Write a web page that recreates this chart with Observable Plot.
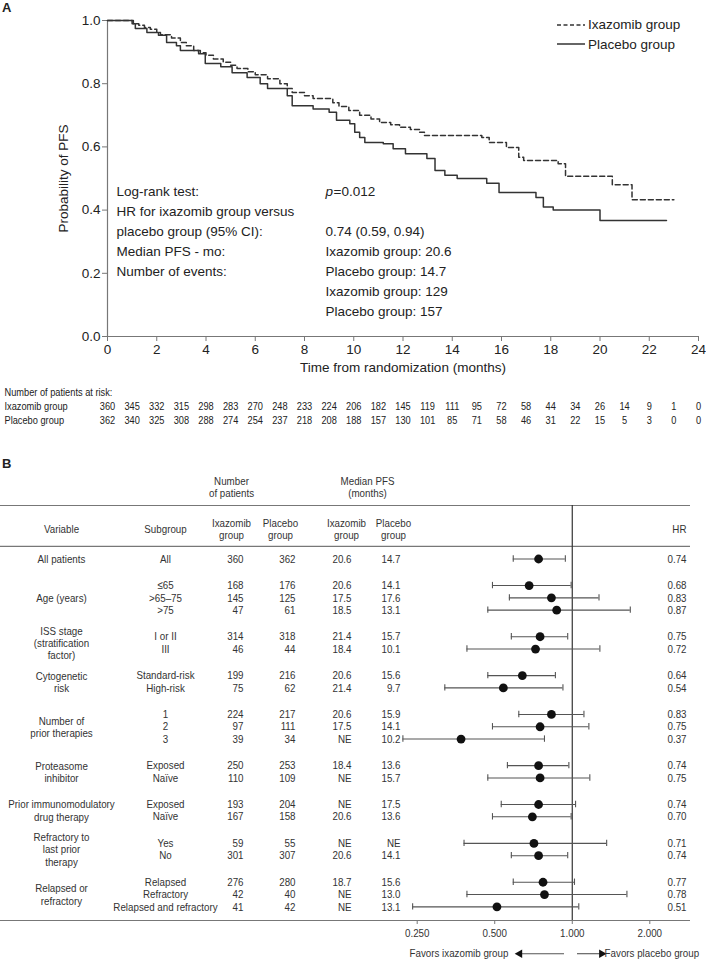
<!DOCTYPE html>
<html><head><meta charset="utf-8">
<script src="https://cdn.jsdelivr.net/npm/d3@7"></script>
<script src="https://cdn.jsdelivr.net/npm/@observablehq/plot@0.6"></script>
<style>
body{margin:0;background:#fff;}
#root{position:relative;width:706px;height:960px;font-family:"Liberation Sans",Arial,sans-serif;color:#222;overflow:hidden;}
.abs{position:absolute;}
.panel{font-weight:bold;font-size:13px;}
.legend{font-size:13.5px;line-height:19.5px;}
.legend div{display:flex;align-items:center;}
.legend svg{margin-right:3px;}
svg [aria-label$="tick"] path{stroke:#777;}
</style></head><body><div id="root"></div>
<script>
// ---------------- Panel A data ----------------
const ixaTime = [0,1.05,1.27,1.5,1.74,2.0,2.15,2.6,2.96,3.2,3.5,3.77,4.0,4.3,4.7,5.0,5.26,5.7,6.0,6.5,7.0,7.3,7.5,8.0,8.35,9.15,9.4,9.8,10.24,10.7,11.05,11.5,11.86,12.3,12.67,12.87,15.2,15.5,16.2,16.7,16.9,18.3,18.6,20.5,21.3,23.0];
const ixaSurv = [1.0,0.99,0.985,0.978,0.972,0.962,0.955,0.945,0.93,0.92,0.905,0.898,0.89,0.878,0.868,0.858,0.848,0.838,0.828,0.816,0.80,0.785,0.772,0.762,0.753,0.74,0.728,0.715,0.70,0.688,0.677,0.67,0.662,0.655,0.646,0.636,0.63,0.614,0.598,0.567,0.557,0.547,0.507,0.48,0.433,0.433];
const plaTime = [0,1.0,1.13,1.6,2.07,2.4,2.8,2.96,3.7,3.97,4.6,5.06,5.67,6.2,6.5,7.3,7.5,8.35,9.0,9.3,9.84,10.04,10.24,10.45,11.2,11.6,12.1,12.97,13.3,13.7,14.2,15.4,15.9,17.4,17.7,18.1,20.0,22.7];
const plaSurv = [1.0,0.99,0.975,0.962,0.953,0.93,0.92,0.905,0.895,0.864,0.854,0.835,0.82,0.80,0.785,0.762,0.73,0.72,0.71,0.684,0.673,0.646,0.63,0.614,0.61,0.594,0.578,0.563,0.525,0.51,0.50,0.485,0.456,0.44,0.41,0.40,0.367,0.367];
const groupNames = ["Ixazomib group","Placebo group"];
const riskMonths = [0,1,2,3,4,5,6,7,8,9,10,11,12,13,14,15,16,17,18,19,20,21,22,23,24];
const ixaAtRisk = [360,345,332,315,298,283,270,248,233,224,206,182,145,119,111,95,72,58,44,34,26,14,9,1,0];
const plaAtRisk = [362,340,325,308,288,274,254,237,218,208,188,157,130,101,85,71,58,46,31,22,15,5,3,0,0];
const yTicksA = [0,0.2,0.4,0.6,0.8,1.0];
const xTicksA = [0,2,4,6,8,10,12,14,16,18,20,22,24];
const statLabels = ["Log-rank test:","HR for ixazomib group versus","placebo group (95% CI):","Median PFS - mo:","Number of events:"];
const statValues = ["=0.012","","0.74 (0.59, 0.94)","Ixazomib group: 20.6","Placebo group: 14.7","Ixazomib group: 129","Placebo group: 157"];

// ---------------- Panel B data ----------------
const variableLabels = ["All patients","Age (years)","ISS stage\n(stratification\nfactor)","Cytogenetic\nrisk","Number of\nprior therapies","Proteasome\ninhibitor","Prior immunomodulatory\ndrug therapy","Refractory to\nlast prior\ntherapy","Relapsed or\nrefractory"];
const subgroups = ["All","≤65",">65–75",">75","I or II","III","Standard-risk","High-risk","1","2","3","Exposed","Naïve","Exposed","Naïve","Yes","No","Relapsed","Refractory","Relapsed and refractory"];
const groupOf = [0,1,1,1,2,2,3,3,4,4,4,5,5,6,6,7,7,8,8,8];
const nIxa = [360,168,145,47,314,46,199,75,224,97,39,250,110,193,167,59,301,276,42,41];
const nPla = [362,176,125,61,318,44,216,62,217,111,34,253,109,204,158,55,307,280,40,42];
const medIxa = ["20.6","20.6","17.5","18.5","21.4","18.4","20.6","21.4","20.6","17.5","NE","18.4","NE","NE","20.6","NE","20.6","18.7","NE","NE"];
const medPla = ["14.7","14.1","17.6","13.1","15.7","10.1","15.6","9.7","15.9","14.1","10.2","13.6","15.7","17.5","13.6","NE","14.1","15.6","13.0","13.1"];
const hr = [0.74,0.68,0.83,0.87,0.75,0.72,0.64,0.54,0.83,0.75,0.37,0.74,0.75,0.74,0.70,0.71,0.74,0.77,0.78,0.51];
const ciLow = [0.59,0.49,0.57,0.47,0.58,0.39,0.47,0.32,0.62,0.49,0.22,0.56,0.47,0.53,0.49,0.38,0.58,0.59,0.39,0.24];
const ciHigh = [0.94,0.99,1.27,1.68,0.96,1.28,0.86,0.92,1.11,1.16,0.78,0.97,1.17,1.03,0.99,1.36,0.96,1.02,1.63,1.06];
const hrTicks = [0.25,0.5,1,2];

// ---------------- build ----------------
const root = document.getElementById("root");
function place(el, left, top){ el.classList.add("abs"); el.style.left=left+"px"; el.style.top=top+"px"; root.appendChild(el); return el; }
function div(html, cls){ const d=document.createElement("div"); d.innerHTML=html; if(cls) d.className=cls; return d; }
// emulate a narrow typeface (the reference uses Arial Narrow-like type)
function condense(svg, k){
  svg.querySelectorAll("text").forEach(t=>{
    const spans = t.querySelectorAll("tspan");
    const els = spans.length ? Array.from(spans) : [t];
    els.forEach(e=>{
      const L = e.getComputedTextLength();
      if (L>0){ e.setAttribute("textLength", (L*k).toFixed(2)); e.setAttribute("lengthAdjust","spacingAndGlyphs"); }
    });
  });
}

const INK="#222", GRAY="#777";
const FONT = "'Liberation Sans',Arial,sans-serif";

// Panel A
const A_TOP = 20, A_BOTTOM = 44, A_H = 380, A_INNER = A_H - A_TOP - A_BOTTOM;
const km = [
  ...ixaTime.map((t,i)=>({t, s: ixaSurv[i], g: groupNames[0]})),
  ...plaTime.map((t,i)=>({t, s: plaSurv[i], g: groupNames[1]}))
];
const statLineY = i => 1 - (171 + i*20.1)/A_INNER;   // annotation lines, in probability units
const A = Plot.plot({
  width:706, height:A_H, marginLeft:107, marginRight:8, marginTop:A_TOP, marginBottom:A_BOTTOM,
  style:{fontFamily:FONT, fontSize:"13.5px", color:INK, background:"transparent"},
  x:{domain:[0,24]}, y:{domain:[0,1]},
  marks:[
    Plot.ruleX([0],{stroke:GRAY, strokeWidth:1.2}),
    Plot.ruleY([0],{stroke:GRAY, strokeWidth:1.2}),
    Plot.axisX({ticks:xTicksA, tickSize:5, tickPadding:3, label:null}),
    Plot.axisY({ticks:yTicksA, tickSize:5, tickPadding:2, tickFormat:d3.format(".1f"), label:null}),
    Plot.text(["Probability of PFS"],{frameAnchor:"left", rotate:-90, dx:-44, textAnchor:"middle"}),
    Plot.text(["Time from randomization (months)"],{frameAnchor:"bottom", dy:35}),
    Plot.line(km.filter(d=>d.g===groupNames[1]),{x:"t", y:"s", curve:"step-after", stroke:"#333", strokeWidth:1.5}),
    Plot.line(km.filter(d=>d.g===groupNames[0]),{x:"t", y:"s", curve:"step-after", stroke:"#333", strokeWidth:1.5, strokeDasharray:"5,3"}),
    Plot.text(statLabels,{x:0, y:(d,i)=>statLineY(i), dx:9, text:d=>d, textAnchor:"start"}),
    Plot.text(["p"],{x:0, y:statLineY(0), dx:218, textAnchor:"start", fontStyle:"italic"}),
    Plot.text(statValues.slice(0,1),{x:0, y:statLineY(0), dx:226, text:d=>d, textAnchor:"start"}),
    Plot.text(statValues,{filter:(d,i)=>i>1, x:0, y:(d,i)=>statLineY(i), dx:218, text:d=>d, textAnchor:"start"})
  ]
});
place(A,0,0);

// Legend
const leg = div(
  `<div><svg width="28" height="4"><line x1="0" y1="2" x2="28" y2="2" stroke="#333" stroke-width="1.5" stroke-dasharray="4,2.5"/></svg>${groupNames[0]}</div>`+
  `<div><svg width="28" height="4"><line x1="0" y1="2" x2="28" y2="2" stroke="#333" stroke-width="1.5"/></svg>${groupNames[1]}</div>`, "legend");
place(leg,557,15);
place(div("A","panel"),2,0);

// At-risk table
const risk = [
  ...riskMonths.map((m,i)=>({m, n: ixaAtRisk[i], g: groupNames[0]})),
  ...riskMonths.map((m,i)=>({m, n: plaAtRisk[i], g: groupNames[1]}))
];
const R = Plot.plot({
  width:706, height:50, marginLeft:107, marginRight:8, marginTop:0, marginBottom:0,
  style:{fontFamily:FONT, fontSize:"11px", color:INK, background:"transparent"},
  x:{domain:[0,24], axis:null}, y:{type:"point", domain:groupNames, range:[26,40], padding:0, axis:null},
  marks:[
    Plot.text(["Number of patients at risk:"],{frameAnchor:"top-left", dx:-103, dy:12, textAnchor:"start", lineAnchor:"middle"}),
    Plot.text(groupNames,{y:d=>d, text:d=>d, frameAnchor:"left", dx:-103, textAnchor:"start"}),
    Plot.text(risk,{x:"m", y:"g", text:"n"})
  ]
});
place(R,0,380);
condense(R,0.84);

// Panel B
const GAP = 2.16;                 // group spacing in row units
const rows = subgroups.map((s,i)=>({
  sub:s, slot: i + groupOf[i]*(GAP-1), nI:nIxa[i], nP:nPla[i], mI:medIxa[i], mP:medPla[i],
  hr:hr[i], lo:ciLow[i], hi:ciHigh[i]
}));
const vars = variableLabels.map((v,g)=>{
  const s = rows.filter((r,i)=>groupOf[i]===g).map(r=>r.slot);
  return {label:v, slot:d3.mean(s)};
});
const ROWPX = 12.3, TOP = 50, FIRST = 103.5, HEIGHTB = 505, BOTTOM = 465;
const slotTop = (TOP-FIRST)/ROWPX, slotBottom = (BOTTOM-FIRST)/ROWPX;
const slotRule2 = -1.02, slotHead = -2.4, slotSuper = -5.85, slotFav = slotBottom + 2.7;
const col = {variable:61, subgroup:165, nI:243, nP:295, mI:351, mP:400, hr:686};
const head = {nI:231, nP:280, mI:346, mP:393, nGroup:231, mGroup:367};
const C = {textAnchor:"middle", frameAnchor:"left"};
const B = Plot.plot({
  width:706, height:HEIGHTB, marginLeft:0, marginRight:16, marginTop:TOP, marginBottom:HEIGHTB-BOTTOM,
  style:{fontFamily:FONT, fontSize:"11.5px", color:"#333", background:"transparent"},
  x:{type:"log", base:2, domain:[0.25,2], range:[416.7,649.3]},
  y:{domain:[slotTop, slotBottom], range:[TOP, BOTTOM], axis:null},
  marks:[
    Plot.ruleY([slotTop, slotRule2, slotBottom],{stroke:GRAY, strokeWidth:1.2}),
    Plot.ruleX([1],{stroke:"#333", strokeWidth:1.2}),
    Plot.axisX({ticks:hrTicks, tickFormat:d3.format(".3f"), tickSize:4, tickPadding:4, label:null}),
    // headers
    Plot.text(["Number\nof patients"],{...C, dx:head.nGroup, y:slotSuper, lineHeight:1.1}),
    Plot.text(["Median PFS\n(months)"],{...C, dx:head.mGroup, y:slotSuper, lineHeight:1.1}),
    Plot.text(["Variable"],{...C, dx:col.variable, y:slotHead}),
    Plot.text(["Subgroup"],{...C, dx:col.subgroup, y:slotHead}),
    Plot.text(["Ixazomib\ngroup"],{...C, dx:head.nI, y:slotHead, lineHeight:1.05}),
    Plot.text(["Placebo\ngroup"],{...C, dx:head.nP, y:slotHead, lineHeight:1.05}),
    Plot.text(["Ixazomib\ngroup"],{...C, dx:head.mI, y:slotHead, lineHeight:1.05}),
    Plot.text(["Placebo\ngroup"],{...C, dx:head.mP, y:slotHead, lineHeight:1.05}),
    Plot.text(["HR"],{frameAnchor:"left", dx:col.hr, y:slotHead, textAnchor:"end"}),
    // table body
    Plot.text(vars,{...C, dx:col.variable, y:"slot", text:"label", lineHeight:1.07}),
    Plot.text(rows,{...C, dx:col.subgroup, y:"slot", text:"sub"}),
    Plot.text(rows,{frameAnchor:"left", dx:col.nI, y:"slot", text:"nI", textAnchor:"end"}),
    Plot.text(rows,{frameAnchor:"left", dx:col.nP, y:"slot", text:"nP", textAnchor:"end"}),
    Plot.text(rows,{frameAnchor:"left", dx:col.mI, y:"slot", text:"mI", textAnchor:"end"}),
    Plot.text(rows,{frameAnchor:"left", dx:col.mP, y:"slot", text:"mP", textAnchor:"end"}),
    Plot.text(rows,{frameAnchor:"left", dx:col.hr, y:"slot", text:d=>d3.format(".2f")(d.hr), textAnchor:"end"}),
    // forest
    Plot.ruleY(rows,{y:"slot", x1:"lo", x2:"hi", stroke:"#555", strokeWidth:1.1}),
    Plot.ruleX(rows,{x:"lo", y1:d=>d.slot-0.26, y2:d=>d.slot+0.26, stroke:"#555", strokeWidth:1.1}),
    Plot.ruleX(rows,{x:"hi", y1:d=>d.slot-0.26, y2:d=>d.slot+0.26, stroke:"#555", strokeWidth:1.1}),
    Plot.dot(rows,{x:"hr", y:"slot", r:4.4, fill:"#111", stroke:null}),
    // favours
    Plot.link([{a:0.929,b:0.635},{a:1.043,b:1.28}],{x1:"a", x2:"b", y1:slotFav, y2:slotFav, stroke:"#555", strokeWidth:1.1}),
    Plot.dot([{x:0.625, r:-90},{x:1.30, r:90}],{x:"x", y:slotFav, symbol:"triangle", rotate:"r", r:3.2, fill:"#111", stroke:null}),
    Plot.text(["Favors ixazomib group"],{x:0.565, y:slotFav, textAnchor:"end"}),
    Plot.text(["Favors placebo group"],{x:1.335, y:slotFav, textAnchor:"start"})
  ]
});
place(B,0,455);
condense(B,0.85);
place(div("B","panel"),2,456);
</script></body></html>
